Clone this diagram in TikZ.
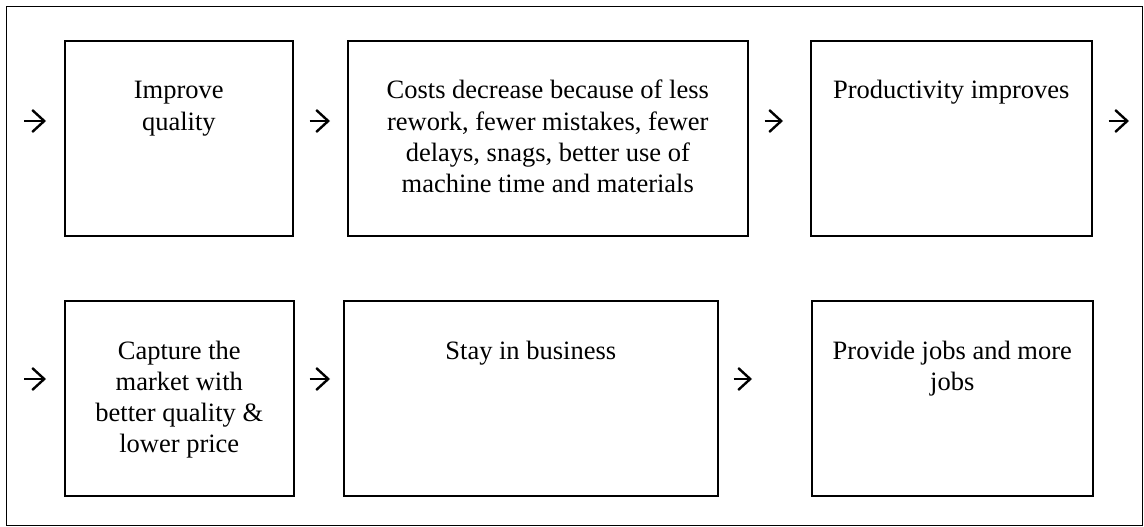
\documentclass[tikz,border=0pt]{standalone}
\usepackage{fontspec}
\setmainfont{Liberation Serif}
\usetikzlibrary{arrows.meta}
\begin{document}
\begin{tikzpicture}[x=1pt,y=-1pt,
  box/.style={draw, line width=1.6pt, inner sep=0pt, anchor=north west},
  lbl/.style={anchor=base, inner sep=0pt, font=\fontsize{26.5}{31.3}\selectfont},
  arr/.style={-{Straight Barb[length=12pt,width=22pt,line width=2.4pt]}, line width=2.4pt},
  frame/.style={draw, line width=1.4pt}]
\useasboundingbox (0,0) rectangle (1144,527);
\node[frame, inner sep=0pt, anchor=north west, minimum width=1136pt, minimum height=519pt] (fr) at (6,6) {};
% row 1
\node[box, minimum width=228pt, minimum height=195pt] (b1) at (64,40) {};
\node[box, minimum width=400pt, minimum height=195pt] (b2) at (347,40) {};
\node[box, minimum width=281pt, minimum height=195pt] (b3) at (810,40) {};
% row 2
\node[box, minimum width=229pt, minimum height=195pt] (b4) at (64,300) {};
\node[box, minimum width=374pt, minimum height=195pt] (b5) at (343,300) {};
\node[box, minimum width=281pt, minimum height=195pt] (b6) at (811,300) {};
% texts
\node[lbl] (t1) at ([yshift=-59pt]b1.north) {\parbox[t]{220pt}{\centering Improve\\quality}};
\node[lbl] (t2) at ([yshift=-59pt]b2.north) {\parbox[t]{390pt}{\centering Costs decrease because of less\\rework, fewer mistakes, fewer\\delays, snags, better use of\\machine time and materials}};
\node[lbl] (t3) at ([yshift=-59pt]b3.north) {\parbox[t]{275pt}{\centering Productivity improves}};
\node[lbl] (t4) at ([yshift=-59pt]b4.north) {\parbox[t]{220pt}{\centering Capture the\\market with\\better quality \&\\lower price}};
\node[lbl] (t5) at ([yshift=-59pt]b5.north) {\parbox[t]{360pt}{\centering Stay in business}};
\node[lbl] (t6) at ([yshift=-59pt]b6.north) {\parbox[t]{275pt}{\centering Provide jobs and more\\jobs}};
% arrow rows
\coordinate (r1) at (0,121);
\coordinate (r2) at (0,379);
\coordinate (s1) at (24,121);
\coordinate (e3) at (1129,121);
\coordinate (s4) at (24,379);
\draw[arr] (s1) -- ([xshift=-18pt]b1.west |- r1);
\draw[arr, shorten <=16pt, shorten >=17pt] (b1.east |- r1) -- (b2.west |- r1);
\draw[arr, shorten <=16pt, shorten >=27pt] (b2.east |- r1) -- (b3.west |- r1);
\draw[arr, shorten <=16pt] (b3.east |- r1) -- (e3);
\draw[arr] (s4) -- ([xshift=-18pt]b4.west |- r2);
\draw[arr, shorten <=15pt, shorten >=13pt] (b4.east |- r2) -- (b5.west |- r2);
\draw[arr, shorten <=15pt, shorten >=59pt] (b5.east |- r2) -- (b6.west |- r2);
\end{tikzpicture}
\end{document}
